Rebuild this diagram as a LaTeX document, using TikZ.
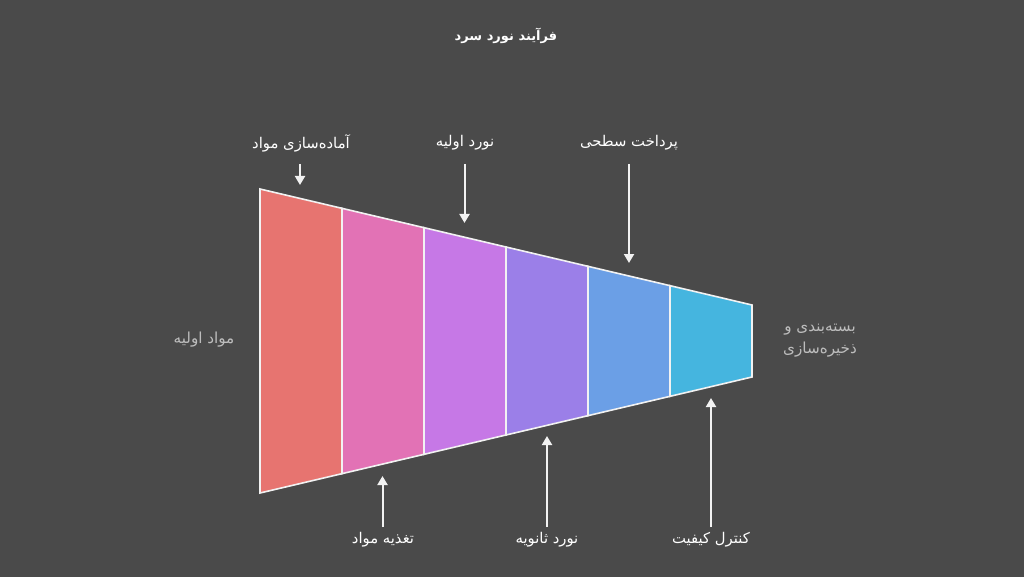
\documentclass[tikz,border=0pt]{standalone}
\usepackage{fontspec}
\TeXXeTstate=1
\newfontfamily\fa[Script=Arabic]{DejaVu Sans}
\usetikzlibrary{arrows.meta}
\definecolor{bg}{HTML}{4A4A4A}
\definecolor{segA}{HTML}{E77470}
\definecolor{segB}{HTML}{E272B5}
\definecolor{segC}{HTML}{C678E6}
\definecolor{segD}{HTML}{9B7FE8}
\definecolor{segE}{HTML}{6B9FE6}
\definecolor{segF}{HTML}{45B5DF}
\definecolor{linew}{HTML}{F2F2F2}
\definecolor{softtext}{HTML}{BDBDBD}
\tikzset{
  seg/.style={draw=linew, line width=1.6pt, line join=miter},
  arr/.style={draw=linew, line width=2pt, -{Triangle[length=9pt,width=10pt]}},
  lab/.style={text=white, font=\fa\fontsize{14.8}{17}\selectfont, inner sep=1pt},
  sidelab/.style={text=softtext, font=\fa\fontsize{15.2}{22}\selectfont, align=center, inner sep=1pt},
  ttl/.style={text=white, font=\fa\bfseries\fontsize{13}{16}\selectfont, inner sep=1pt}
}
\begin{document}
\begin{tikzpicture}[x=1pt,y=-1pt]
\fill[bg] (0,0) rectangle (1024,577);
\useasboundingbox (0,0) rectangle (1024,577);
% funnel segments
\foreach \c [count=\n from 0] in {segA,segB,segC,segD,segE,segF}{
  \filldraw[seg, fill=\c]
    ({260+82*\n},{189+19.333*\n}) -- ({342+82*\n},{208.333+19.333*\n})
    -- ({342+82*\n},{473.667-19.333*\n}) -- ({260+82*\n},{493-19.333*\n}) -- cycle;
}
% title
\node[ttl] (title) at (506,36) {\beginR فرآیند نورد سرد\endR};
% top labels
\node[lab] (t1) at (301,143) {\beginR آماده‌سازی مواد\endR};
\node[lab] (t2) at (465,143) {\beginR نورد اولیه\endR};
\node[lab] (t3) at (629,143) {\beginR پرداخت سطحی\endR};
% bottom labels
\node[lab] (b1) at (383,540) {\beginR تغذیه مواد\endR};
\node[lab] (b2) at (547,540) {\beginR نورد ثانویه\endR};
\node[lab] (b3) at (711,540) {\beginR کنترل کیفیت\endR};
% side labels
\node[sidelab] (left) at (204,340) {\beginR مواد اولیه\endR};
\node[sidelab] (right) at (820,341) {\beginR بسته‌بندی و\endR\\\beginR ذخیره‌سازی\endR};
% arrow coordinates
\coordinate (t1s) at (300,164); \coordinate (t1e) at (300,185);
\coordinate (t2s) at (464.5,164); \coordinate (t2e) at (464.5,223);
\coordinate (t3s) at (629,164); \coordinate (t3e) at (629,263);
\coordinate (b1s) at (382.5,527); \coordinate (b1e) at (382.5,476);
\coordinate (b2s) at (547,527); \coordinate (b2e) at (547,436);
\coordinate (b3s) at (711,527); \coordinate (b3e) at (711,398);
\foreach \a in {t1,t2,t3,b1,b2,b3}{
  \draw[arr] (\a s) -- (\a e);
}
\end{tikzpicture}
\end{document}
